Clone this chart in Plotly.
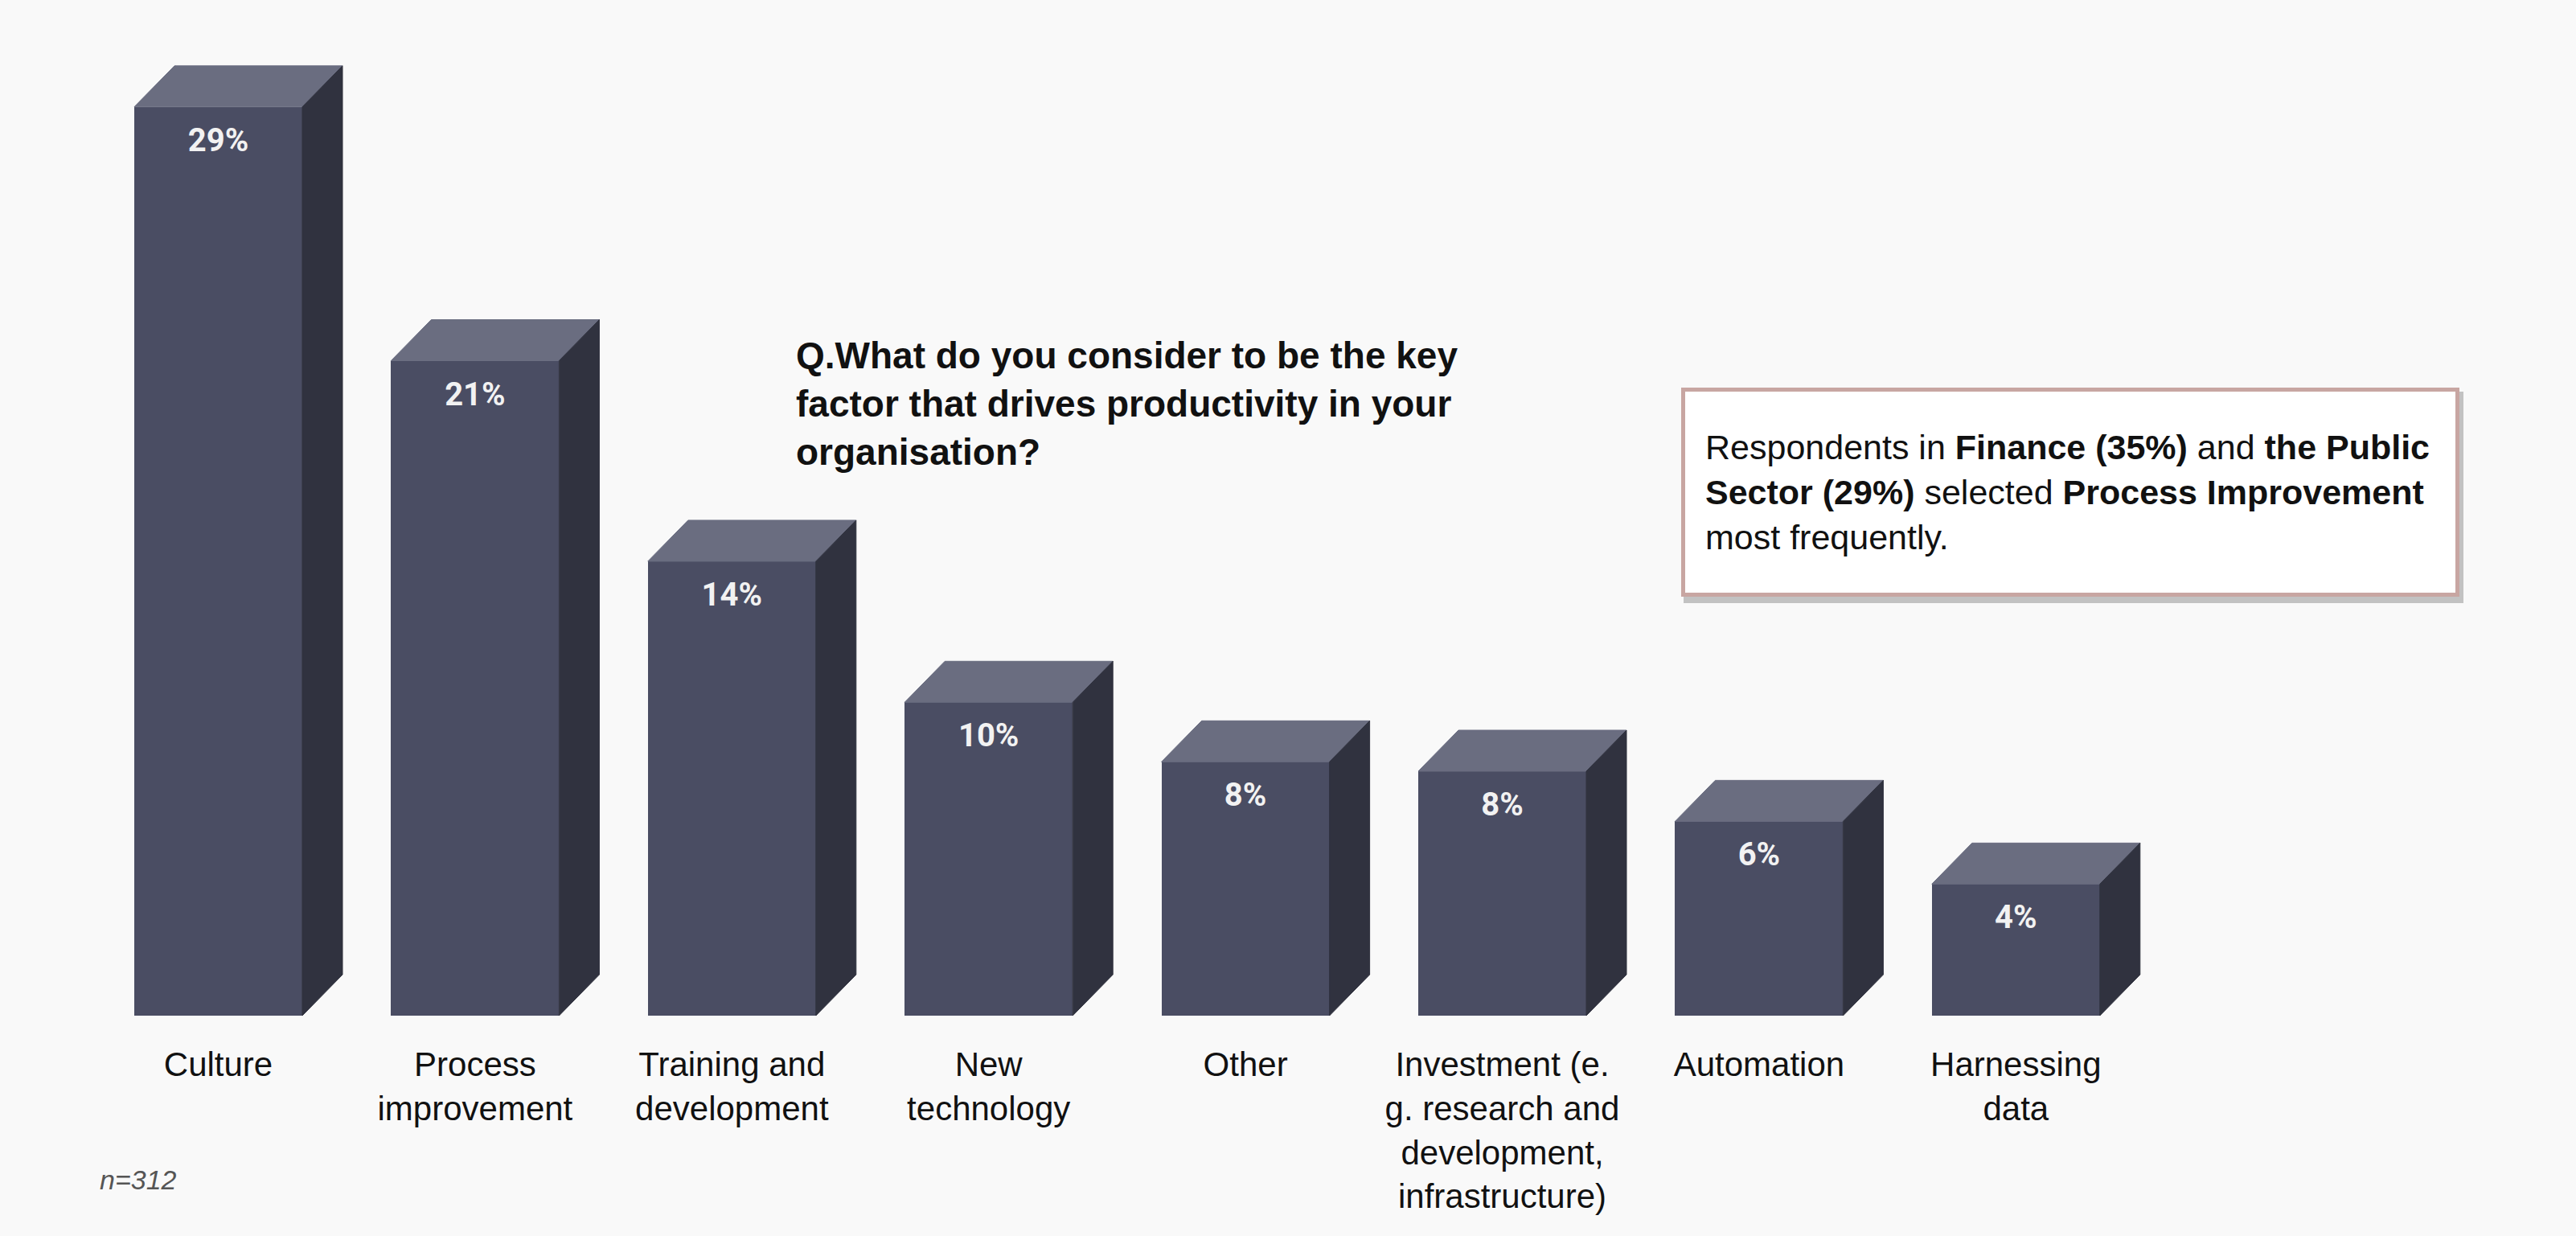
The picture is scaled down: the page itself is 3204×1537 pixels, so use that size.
import plotly.graph_objects as go

# ---- data ----
categories = [
    "Culture",
    "Process<br>improvement",
    "Training and<br>development",
    "New<br>technology",
    "Other",
    "Investment (e.<br>g. research and<br>development,<br>infrastructure)",
    "Automation",
    "Harnessing<br>data",
]
values = [29.0, 20.9, 14.5, 10.0, 8.1, 7.8, 6.2, 4.2]
value_labels = ["29%", "21%", "14%", "10%", "8%", "8%", "6%", "4%"]

title_text = ("<b>Q.What do you consider to be the key<br>"
              "factor that drives productivity in your<br>"
              "organisation?</b>")
box_text = ("Respondents in <b>Finance (35%)</b> and <b>the Public</b><br>"
            "<b>Sector (29%)</b> selected <b>Process Improvement</b><br>"
            "most frequently.")
note_text = "<i>n=312</i>"

# ---- styling / geometry ----
W, H = 3204, 1537
ML, MR, MT, MB = 100, 104, 40, 274
plot_w = W - ML - MR
plot_h = H - MT - MB
px_per_x = 319.4
px_per_y = 38.97
x_first_px = 271.5  # pixel centre of first bar
x_range = [-(x_first_px - ML) / px_per_x, (ML + plot_w - x_first_px) / px_per_x]
y_range = [0, plot_h / px_per_y]

bar_w = 209 / px_per_x
depth_x = 50 / px_per_x
depth_y = 51 / px_per_y

FRONT = "#4a4d63"
TOP = "#6a6d80"
SIDE = "#30323f"
BG = "#f9f9f9"

xs = list(range(len(values)))

fig = go.Figure()

# front faces
fig.add_trace(go.Bar(
    x=xs, y=values, width=bar_w,
    marker=dict(color=FRONT, line=dict(width=0)),
    hoverinfo="skip", showlegend=False,
))

# top faces
tx, ty = [], []
for x, v in zip(xs, values):
    l, r = x - bar_w / 2, x + bar_w / 2
    tx += [l, r, r + depth_x, l + depth_x, l, None]
    ty += [v, v, v + depth_y, v + depth_y, v, None]
fig.add_trace(go.Scatter(
    x=tx, y=ty, mode="lines", fill="toself", fillcolor=TOP,
    line=dict(color=TOP, width=1), hoverinfo="skip", showlegend=False,
))

# side faces
sx, sy = [], []
for x, v in zip(xs, values):
    r = x + bar_w / 2
    sx += [r, r + depth_x, r + depth_x, r, r, None]
    sy += [0, depth_y, v + depth_y, v, 0, None]
fig.add_trace(go.Scatter(
    x=sx, y=sy, mode="lines", fill="toself", fillcolor=SIDE,
    line=dict(color=SIDE, width=1), hoverinfo="skip", showlegend=False,
))

# value labels inside bars
label_offset = 45 / px_per_y
fig.add_trace(go.Scatter(
    x=xs, y=[v - label_offset for v in values], mode="text",
    text=value_labels, textposition="middle center",
    textfont=dict(family="Roboto, Liberation Sans, sans-serif", size=40,
                  color="#f2f2f2", weight="bold"),
    hoverinfo="skip", showlegend=False,
))

def px_to_paper_x(px):
    return (px - ML) / plot_w

def px_to_paper_y(py):
    return (MT + plot_h - py) / plot_h

# question annotation
fig.add_annotation(
    text=title_text, xref="paper", yref="paper",
    x=px_to_paper_x(988), y=px_to_paper_y(414),
    xanchor="left", yanchor="top", align="left", showarrow=False,
    font=dict(family="Liberation Sans, Arial, sans-serif", size=46, color="#111111"),
)

# callout box shadow
box_l, box_t, box_r, box_b = 2091, 482, 3059, 742
fig.add_shape(
    type="rect", xref="paper", yref="paper",
    x0=px_to_paper_x(box_l + 3), x1=px_to_paper_x(box_r + 5),
    y0=px_to_paper_y(box_b + 8), y1=px_to_paper_y(box_t + 5),
    fillcolor="rgba(0,0,0,0.22)", line=dict(width=0), layer="below",
)
# callout box
fig.add_annotation(
    text=box_text, xref="paper", yref="paper",
    x=px_to_paper_x(box_l), y=px_to_paper_y(box_t),
    xanchor="left", yanchor="top", align="left", valign="middle",
    showarrow=False, width=box_r - box_l - 60, height=box_b - box_t - 60,
    bgcolor="#ffffff", bordercolor="#c8a6a2", borderwidth=5, borderpad=25,
    font=dict(family="Liberation Sans, Arial, sans-serif", size=43, color="#111111"),
)

# n= note
fig.add_annotation(
    text=note_text, xref="paper", yref="paper",
    x=px_to_paper_x(122), y=px_to_paper_y(1467),
    xanchor="left", yanchor="middle", showarrow=False,
    font=dict(family="Liberation Sans, Arial, sans-serif", size=34, color="#555555"),
)

fig.update_layout(
    width=W, height=H,
    margin=dict(l=ML, r=MR, t=MT, b=MB, pad=0),
    paper_bgcolor=BG, plot_bgcolor=BG,
    bargap=0, showlegend=False,
    xaxis=dict(
        range=x_range, tickmode="array", tickvals=xs, ticktext=categories,
        showgrid=False, zeroline=False, showline=False,
        ticks="outside", ticklen=24, tickcolor=BG,
        tickfont=dict(family="Liberation Sans, Arial, sans-serif", size=42, color="#111111"),
        fixedrange=True,
    ),
    yaxis=dict(range=y_range, visible=False, fixedrange=True),
)

fig.write_html(
    "out.html",
    config={"displayModeBar": False},
    post_script="document.body.style.margin='0';document.body.style.overflow='hidden';",
)
